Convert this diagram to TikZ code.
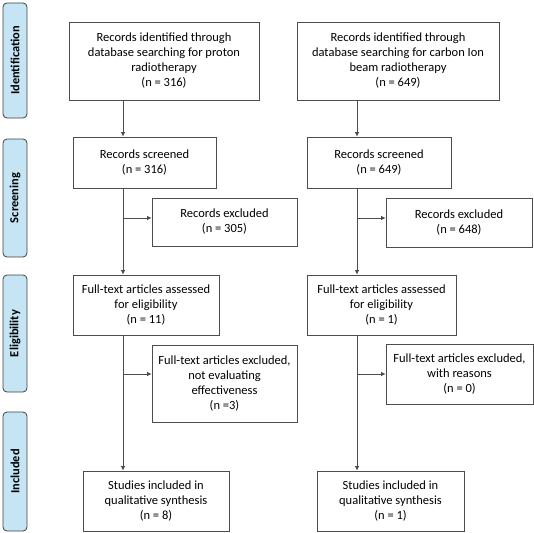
\documentclass[tikz,border=0pt]{standalone}
\usepackage{fontspec}
\setmainfont{Carlito}
\usetikzlibrary{arrows.meta}
\definecolor{phaseblue}{RGB}{197,228,244}

\begin{document}
\begin{tikzpicture}[x=1pt, y=-1pt,
    box/.style={draw=black!70, line width=.8pt, align=center, inner sep=0pt,
      font=\fontsize{12.5}{15}\selectfont},
    phase/.style={draw=black!75, line width=.8pt, fill=phaseblue, rounded corners=4pt,
      inner sep=0pt, rotate=90, minimum height=24, font=\fontsize{12.4}{14}\selectfont\bfseries},
    flow/.style={draw=black!70, line width=.7pt, -{Latex[length=4.5pt,width=4.5pt]}}]
    \useasboundingbox (0,0) rectangle (534,532);
    % phases
    \node[phase, minimum width=115] (ident) at (15,60.5) {Identification};
    \node[phase, minimum width=118] (screen) at (15,198) {Screening};
    \node[phase, minimum width=117] (elig) at (15,333.5) {Eligibility};
    \node[phase, minimum width=119] (incl) at (15,471.5) {Included};
    % proton column
    \node[box, minimum width=190, minimum height=78] (idL) at (164,61)
     {Records identified through\\database searching for proton\\radiotherapy\\(n = 316)};
    \node[box, minimum width=143, minimum height=51] (scrL) at (144.5,162.5)
     {Records screened\\(n = 316)};
    \node[box, minimum width=145, minimum height=48] (exL) at (224.5,222)
     {Records excluded\\(n = 305)};
    \node[box, minimum width=146, minimum height=60] (ftL) at (146,305)
     {Full-text articles assessed\\for eligibility\\(n = 11)};
    \node[box, minimum width=145, minimum height=77] (fexL) at (224.5,383.5)
     {Full-text articles excluded,\\not evaluating\\effectiveness\\(n =3)};
    \node[box, minimum width=146, minimum height=60] (incL) at (156,501)
     {Studies included in\\qualitative synthesis\\(n = 8)};
    % carbon ion column
    \node[box, minimum width=202, minimum height=78] (idR) at (398,61)
     {Records identified through\\database searching for carbon Ion\\beam radiotherapy\\(n = 649)};
    \node[box, minimum width=144, minimum height=51] (scrR) at (379,162.5)
     {Records screened\\(n = 649)};
    \node[box, minimum width=146, minimum height=49] (exR) at (459,222.5)
     {Records excluded\\(n = 648)};
    \node[box, minimum width=149, minimum height=60] (ftR) at (381.5,305)
     {Full-text articles assessed\\for eligibility\\(n = 1)};
    \node[box, minimum width=147, minimum height=60] (fexR) at (459.5,374)
     {Full-text articles excluded,\\with reasons\\(n = 0)};
    \node[box, minimum width=147, minimum height=60] (incR) at (390.5,501)
     {Studies included in\\qualitative synthesis\\(n = 1)};
    % arrows
    \coordinate (lx) at (123,0);
    \coordinate (rx) at (357,0);
    \coordinate (exLa) at (123,218);
    \coordinate (fexLa) at (123,374);
    \coordinate (exRa) at (357,218);
    \coordinate (fexRa) at (357,374);
    \draw[flow] (idL.south -| lx) -- (scrL.north -| lx);
    \draw[flow] (scrL.south -| lx) -- (ftL.north -| lx);
    \draw[flow] (ftL.south -| lx) -- (incL.north -| lx);
    \draw[flow] (exLa) -- (exLa -| exL.west);
    \draw[flow] (fexLa) -- (fexLa -| fexL.west);
    \draw[flow] (idR.south -| rx) -- (scrR.north -| rx);
    \draw[flow] (scrR.south -| rx) -- (ftR.north -| rx);
    \draw[flow] (ftR.south -| rx) -- (incR.north -| rx);
    \draw[flow] (exRa) -- (exRa -| exR.west);
    \draw[flow] (fexRa) -- (fexRa -| fexR.west);
\end{tikzpicture}
\end{document}
